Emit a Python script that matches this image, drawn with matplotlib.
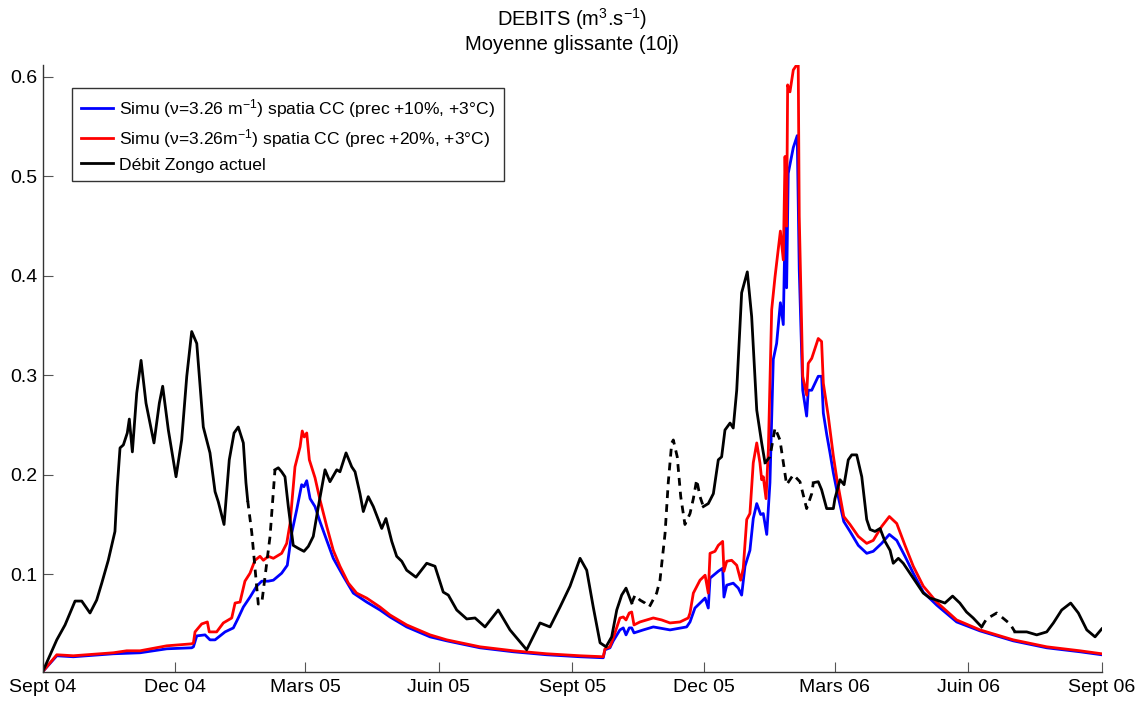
import datetime as dt
import numpy as np
import matplotlib
matplotlib.use('Agg')
import matplotlib.pyplot as plt
import matplotlib.dates as mdates

plt.rcParams['font.family'] = ['Liberation Sans', 'DejaVu Sans']
plt.rcParams['mathtext.fontset'] = 'custom'
plt.rcParams['mathtext.rm'] = 'Liberation Sans'
plt.rcParams['mathtext.it'] = 'Liberation Sans:italic'

START = dt.datetime(2004, 9, 1)

# simulated discharge, +10% precipitation (days since 1 Sept 2004, m3/s)
sim10_days = [0, 9.7, 21.1, 48.7, 67.1, 85.5, 102.7, 103.9, 106.2, 111.9, 115.3, 118.8,
              125.7, 131.4, 134.8, 138.3, 142.9, 147.5, 151.0, 155.5, 159.0, 164.7, 168.6,
              171.6, 175.1, 178.5, 180.1, 182.0, 184.3, 187.7, 191.1, 195.8, 200.3, 207.2,
              214.1, 223.3, 232.5, 239.4, 250.9, 267.0, 278.5, 301.4, 324.4, 347.4, 370.4,
              386.4, 387.6, 391.0, 393.3, 397.9, 400.2, 402.1, 404.3, 406.0, 407.6, 414.0,
              420.9, 432.4, 443.9, 446.2, 449.6, 456.6, 458.8, 460.0, 465.7, 468.7, 469.6,
              471.5, 476.0, 479.5, 481.8, 484.1, 487.5, 489.8, 492.2, 494.9, 496.7, 499.1,
              501.3, 503.6, 505.9, 508.5, 510.5, 511.7, 512.8, 513.9, 517.4, 520.1, 521.5,
              523.9, 526.6, 527.7, 530.1, 534.6, 536.9, 538.1, 540.5, 542.7, 545.0, 547.3,
              552.2, 556.5, 562.2, 568.0, 572.5, 578.3, 583.6, 588.7, 594.4, 600.1, 607.0,
              616.2, 630.0, 646.1, 669.0, 692.1, 715.0, 730.0]
sim10_q = [0.002, 0.018, 0.017, 0.020, 0.021, 0.025, 0.026, 0.027, 0.038, 0.039, 0.034, 0.034,
           0.042, 0.046, 0.056, 0.067, 0.077, 0.088, 0.093, 0.093, 0.094, 0.101, 0.109,
           0.141, 0.165, 0.190, 0.188, 0.194, 0.176, 0.168, 0.153, 0.134, 0.116, 0.098,
           0.081, 0.072, 0.064, 0.057, 0.047, 0.037, 0.033, 0.026, 0.022, 0.019, 0.017,
           0.016, 0.024, 0.026, 0.033, 0.044, 0.046, 0.039, 0.046, 0.046, 0.041, 0.044,
           0.047, 0.044, 0.047, 0.052, 0.066, 0.076, 0.066, 0.096, 0.103, 0.106, 0.077,
           0.089, 0.091, 0.086, 0.079, 0.108, 0.124, 0.156, 0.171, 0.160, 0.161, 0.140,
           0.192, 0.316, 0.332, 0.373, 0.351, 0.450, 0.388, 0.503, 0.529, 0.541, 0.406,
           0.285, 0.259, 0.285, 0.285, 0.299, 0.299, 0.262, 0.240, 0.222, 0.202, 0.185,
           0.153, 0.143, 0.129, 0.121, 0.123, 0.131, 0.140, 0.134, 0.118, 0.101, 0.082,
           0.069, 0.052, 0.043, 0.033, 0.026, 0.022, 0.019]

# simulated discharge, +20% precipitation
sim20_days = [0, 9.7, 21.1, 48.7, 57.9, 67.1, 85.5, 102.7, 103.9, 105.0, 109.6, 113.5, 114.8,
              119.9, 124.5, 130.3, 132.6, 136.0, 139.4, 142.9, 146.3, 149.8, 152.1, 155.5,
              159.0, 164.7, 168.2, 170.5, 173.9, 177.4, 178.9, 180.3, 182.0, 183.8, 187.7,
              191.1, 195.8, 200.3, 204.9, 210.7, 216.4, 223.3, 232.5, 239.4, 250.9, 267.0,
              278.5, 301.4, 324.4, 347.4, 370.4, 386.4, 387.6, 391.0, 393.3, 397.9, 400.2,
              402.1, 404.3, 406.0, 407.6, 411.7, 420.9, 426.7, 432.4, 439.3, 445.0, 446.2,
              448.5, 453.1, 456.6, 458.8, 460.0, 463.4, 465.7, 468.7, 469.6, 471.5, 474.9,
              478.4, 481.1, 482.9, 485.3, 487.5, 489.8, 492.2, 494.4, 495.6, 496.7, 498.6,
              500.2, 502.5, 504.8, 508.5, 510.5, 511.7, 512.8, 513.5, 515.1, 517.4, 519.7,
              520.8, 521.5, 523.9, 526.6, 527.7, 530.1, 534.6, 536.9, 538.1, 541.5, 542.7,
              545.0, 547.3, 552.2, 556.5, 562.2, 568.0, 572.5, 578.3, 583.6, 588.7, 594.4,
              600.1, 607.0, 616.2, 630.0, 646.1, 669.0, 692.1, 715.0, 730.0]
sim20_q = [0.002, 0.019, 0.018, 0.021, 0.023, 0.023, 0.028, 0.030, 0.031, 0.042, 0.050, 0.052,
           0.042, 0.042, 0.051, 0.056, 0.071, 0.072, 0.093, 0.101, 0.114, 0.118, 0.114,
           0.118, 0.116, 0.121, 0.131, 0.151, 0.208, 0.228, 0.244, 0.238, 0.242, 0.215,
           0.197, 0.175, 0.148, 0.124, 0.108, 0.091, 0.081, 0.076, 0.067, 0.059, 0.049,
           0.039, 0.034, 0.027, 0.023, 0.020, 0.018, 0.017, 0.025, 0.027, 0.036, 0.056,
           0.057, 0.054, 0.061, 0.062, 0.049, 0.052, 0.056, 0.054, 0.051, 0.052, 0.056,
           0.061, 0.081, 0.094, 0.099, 0.081, 0.121, 0.123, 0.129, 0.133, 0.103, 0.113,
           0.114, 0.109, 0.094, 0.106, 0.155, 0.161, 0.212, 0.232, 0.212, 0.195, 0.198,
           0.176, 0.225, 0.366, 0.399, 0.445, 0.416, 0.520, 0.450, 0.592, 0.585, 0.607,
           0.612, 0.612, 0.460, 0.299, 0.280, 0.312, 0.317, 0.337, 0.334, 0.292, 0.259,
           0.245, 0.219, 0.197, 0.158, 0.150, 0.138, 0.131, 0.134, 0.148, 0.158, 0.151,
           0.129, 0.108, 0.088, 0.072, 0.054, 0.044, 0.034, 0.027, 0.023, 0.020]

# measured discharge, nan marks the gaps
obs_days = [0, 9.7, 15.4, 22.3, 26.9, 32.6, 37.2, 40.7, 45.2, 49.8, 51.4, 53.3, 55.6, 58.3,
            59.7, 61.8, 64.8, 67.8, 71.2, 76.7, 80.4, 82.7, 86.6, 91.9, 95.8, 99.3, 102.7,
            106.2, 110.7, 115.3, 118.8, 121.0, 125.0, 128.6, 131.9, 134.8, 138.3, 140.1,
            141.3, np.nan,
            160.1, 162.4, 164.7, 167.0, 169.3, 172.7, 176.2, 180.1, 183.1, 186.5, 190.0,
            194.6, 198.0, 202.7, 204.9, 209.1, 213.0, 215.3, 218.7, 221.0, 224.4, 227.9,
            233.7, 236.6, 240.6, 244.0, 247.5, 250.9, 257.3, 264.7, 270.4, 276.1, 279.6,
            285.4, 292.3, 298.0, 304.9, 314.0, 322.1, 333.6, 342.8, 349.7, 356.6, 363.5,
            370.4, 375.0, 379.5, 384.2, 388.3, 392.2, 395.7, 399.1, 402.1, 406.0, np.nan,
            455.4, 458.8, 462.3, 465.7, 468.0, 470.3, 473.8, 476.0, 478.4, 481.8, 485.7,
            488.7, 492.2, 495.6, 497.9, np.nan,
            531.2, 534.6, 536.9, 540.4, 545.0, 546.1, 549.6, 552.4, 555.3, 557.7, 561.1,
            564.6, 568.0, 570.3, 573.7, 577.2, 580.6, 584.1, 586.3, 589.8, 593.2, 597.8,
            602.4, 607.0, 611.6, 616.2, 621.9, 627.2, 632.2, 636.8, 641.4, 647.2, np.nan,
            670.2, 678.3, 685.2, 692.1, 696.7, 702.4, 708.6, 713.9, 719.7, 725.4, 730.0]
obs_q = [0.002, 0.034, 0.049, 0.073, 0.073, 0.061, 0.074, 0.091, 0.114, 0.143, 0.188, 0.227,
         0.230, 0.242, 0.256, 0.223, 0.282, 0.315, 0.272, 0.232, 0.272, 0.289, 0.245, 0.198,
         0.235, 0.299, 0.344, 0.332, 0.248, 0.222, 0.183, 0.173, 0.150, 0.215, 0.242, 0.248,
         0.232, 0.192, 0.174, np.nan,
         0.205, 0.207, 0.203, 0.198, 0.168, 0.129, 0.126, 0.123, 0.128, 0.138, 0.168,
         0.205, 0.193, 0.205, 0.203, 0.222, 0.208, 0.203, 0.181, 0.163, 0.178, 0.168,
         0.146, 0.156, 0.133, 0.118, 0.113, 0.104, 0.097, 0.111, 0.108, 0.082, 0.079,
         0.064, 0.055, 0.056, 0.047, 0.064, 0.044, 0.024, 0.051, 0.047, 0.067, 0.088,
         0.116, 0.104, 0.067, 0.031, 0.027, 0.037, 0.064, 0.079, 0.086, 0.071, np.nan,
         0.168, 0.171, 0.181, 0.215, 0.218, 0.245, 0.252, 0.247, 0.285, 0.383, 0.404,
         0.359, 0.265, 0.232, 0.212, np.nan,
         0.192, 0.193, 0.185, 0.166, 0.166, 0.176, 0.195, 0.190, 0.215, 0.220, 0.220,
         0.198, 0.155, 0.145, 0.143, 0.146, 0.133, 0.124, 0.111, 0.116, 0.111, 0.101,
         0.091, 0.081, 0.076, 0.074, 0.071, 0.078, 0.071, 0.062, 0.056, 0.047, np.nan,
         0.042, 0.042, 0.039, 0.042, 0.051, 0.064, 0.071, 0.061, 0.044, 0.037, 0.045]

# gap-filled stretches of the measured series (dashed)
fill_days = [141.3, 144.1, 148.6, 151.0, 156.7, 160.1, np.nan,
             406.0, 408.3, 411.7, 415.2, 418.1, 423.2, 425.5, 429.0, 431.2, 433.6, 434.7,
             437.4, 439.8, 442.7, 446.2, 448.5, 450.8, 453.1, 455.4, np.nan,
             497.9, 501.3, 504.8, 508.2, 512.8, 517.4, 522.0, 526.6, 530.1, 531.2, np.nan,
             647.2, 650.6, 657.6, 661.0, 666.8, 670.2]
fill_q = [0.174, 0.142, 0.070, 0.071, 0.138, 0.205, np.nan,
          0.071, 0.079, 0.074, 0.071, 0.067, 0.081, 0.094, 0.141, 0.192, 0.232, 0.235,
          0.218, 0.178, 0.150, 0.161, 0.176, 0.195, 0.178, 0.168, np.nan,
          0.212, 0.218, 0.247, 0.235, 0.190, 0.200, 0.193, 0.166, 0.181, 0.192, np.nan,
          0.047, 0.055, 0.061, 0.057, 0.050, 0.042]

tick_dates = [dt.datetime(2004, 9, 1), dt.datetime(2004, 12, 1), dt.datetime(2005, 3, 1),
              dt.datetime(2005, 6, 1), dt.datetime(2005, 9, 1), dt.datetime(2005, 12, 1),
              dt.datetime(2006, 3, 1), dt.datetime(2006, 6, 1), dt.datetime(2006, 9, 1)]
tick_labels = ['Sept 04', 'Dec 04', 'Mars 05', 'Juin 05', 'Sept 05',
               'Dec 05', 'Mars 06', 'Juin 06', 'Sept 06']


def to_num(days):
    return mdates.date2num(START) + np.asarray(days, dtype=float)


fig = plt.figure(figsize=(11.45, 7.02), dpi=100)
ax = fig.add_axes([0.0373, 0.0432, 0.9249, 0.8642])

ax.plot(to_num(sim10_days), sim10_q, '-', color='blue', lw=2,
        label='Simu (\u03bd=3.26 m$^{-1}$) spatia CC (prec +10%, +3\u00b0C)')
ax.plot(to_num(sim20_days), sim20_q, '-', color='red', lw=2,
        label='Simu (\u03bd=3.26m$^{-1}$) spatia CC (prec +20%, +3\u00b0C)')
ax.plot(to_num(obs_days), obs_q, '-', color='black', lw=2,
        label='D\u00e9bit Zongo actuel')
ax.plot(to_num(fill_days), fill_q, color='black', lw=2, ls=(0, (2.8, 2.2)))

ax.set_xlim(mdates.date2num(tick_dates[0]), mdates.date2num(tick_dates[-1]))
ax.set_ylim(0.002, 0.612)
ax.set_xticks(mdates.date2num(tick_dates))
ax.set_xticklabels(tick_labels)
ax.set_yticks([0.1, 0.2, 0.3, 0.4, 0.5, 0.6])
ax.set_yticklabels(['0.1', '0.2', '0.3', '0.4', '0.5', '0.6'])

for side in ['top', 'right']:
    ax.spines[side].set_visible(False)
for side in ['left', 'bottom']:
    ax.spines[side].set_color('#333333')
    ax.spines[side].set_linewidth(1.0)
ax.tick_params(direction='in', length=7, width=0.8, color='#555555', labelsize=14)
ax.tick_params(axis='x', pad=5)
ax.tick_params(axis='y', pad=3.5)

ax.set_title('DEBITS (m$^3$.s$^{-1}$)\nMoyenne glissante (10j)', fontsize=14.5,
             linespacing=1.2, pad=11)

leg = ax.legend(loc='upper left', bbox_to_anchor=(0.028, 0.962), fontsize=12.6,
                frameon=True, fancybox=False, edgecolor='black', borderpad=0.5,
                handlelength=1.85, handletextpad=0.3, labelspacing=0.42,
                borderaxespad=0)
leg.get_frame().set_linewidth(1.0)

fig.savefig('out.png', dpi=100)
